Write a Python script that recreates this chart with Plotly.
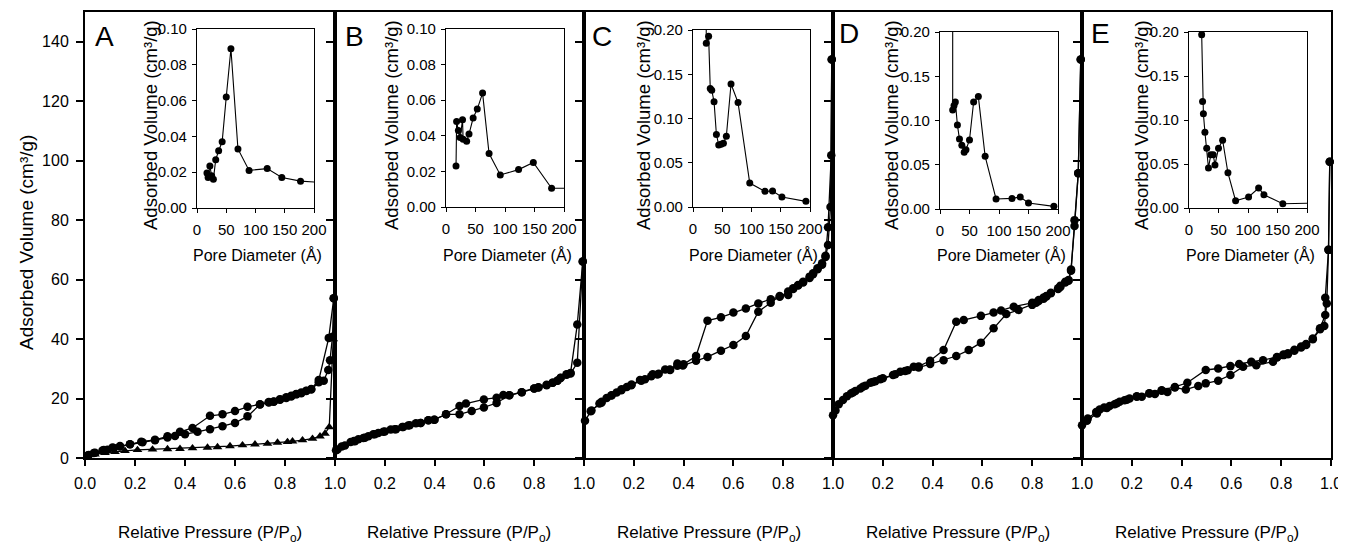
import plotly.graph_objects as go

PAGE_W, PAGE_H = 1346, 544
OFF = 8  # default page body margin of the html page
W, H = PAGE_W - OFF, PAGE_H - OFF
FONT = "Arial, 'Liberation Sans', Helvetica, sans-serif"

# ---------------- main isotherm data (relative pressure, adsorbed volume) ----------------
A_ads_x = [0.012, 0.035, 0.07, 0.09, 0.115, 0.14, 0.18, 0.23, 0.28, 0.33, 0.36, 0.40, 0.45, 0.50, 0.55,
           0.60, 0.65, 0.70, 0.735, 0.755, 0.78, 0.805, 0.825, 0.845, 0.865, 0.885, 0.905, 0.935, 0.955,
           0.973, 0.98, 0.99, 0.995]
A_ads_y = [0.9, 1.7, 2.5, 2.8, 3.4, 3.9, 4.6, 5.3, 6.0, 6.9, 7.4, 8.0, 8.8, 9.7, 10.7,
           11.8, 14.0, 18.0, 18.8, 18.9, 19.6, 20.2, 20.7, 21.4, 21.8, 22.5, 23.0, 25.5, 26.0,
           29.6, 32.9, 40.8, 53.7]
A_des_x = [0.995, 0.975, 0.935, 0.905, 0.885, 0.865, 0.845, 0.825, 0.805, 0.78, 0.755, 0.735, 0.70, 0.65,
           0.60, 0.55, 0.50, 0.43, 0.38, 0.33, 0.28, 0.225, 0.18, 0.14, 0.11, 0.075, 0.04, 0.015]
A_des_y = [53.7, 40.4, 26.2, 23.2, 22.6, 22.0, 21.5, 20.9, 20.4, 19.8, 19.0, 18.7, 18.1, 17.2,
           15.8, 14.7, 14.2, 10.1, 8.8, 7.3, 6.1, 5.5, 4.6, 4.0, 3.5, 2.7, 1.8, 1.0]
A_tri_x = [0.01, 0.04, 0.08, 0.12, 0.16, 0.21, 0.27, 0.33, 0.38, 0.43, 0.49, 0.53, 0.58, 0.63, 0.68,
           0.73, 0.77, 0.81, 0.83, 0.87, 0.91, 0.94, 0.96, 0.977, 0.993]
A_tri_y = [0.6, 1.2, 1.7, 2.1, 2.4, 2.7, 2.9, 3.0, 3.1, 3.3, 3.5, 3.7, 4.0, 4.3, 4.6,
           4.8, 5.2, 5.4, 5.6, 6.0, 6.5, 7.3, 8.2, 10.4, 40.0]

B_ads_x = [0.004, 0.027, 0.063, 0.076, 0.094, 0.114, 0.134, 0.154, 0.174, 0.194, 0.224, 0.245, 0.274,
           0.294, 0.325, 0.344, 0.375, 0.398, 0.446, 0.50, 0.549, 0.598, 0.649, 0.70, 0.75, 0.80, 0.817,
           0.85, 0.874, 0.893, 0.906, 0.93, 0.946, 0.973, 0.995]
B_ads_y = [2.6, 3.9, 5.4, 5.7, 6.3, 6.7, 7.3, 8.0, 8.4, 8.8, 9.6, 9.7, 10.4,
           10.9, 11.7, 11.8, 12.7, 12.9, 14.7, 14.7, 15.8, 17.0, 18.5, 21.1, 22.1, 23.4, 23.7,
           24.5, 25.3, 26.0, 26.9, 28.2, 28.4, 32.0, 66.1]
B_des_x = [0.995, 0.973, 0.946, 0.93, 0.906, 0.893, 0.874, 0.85, 0.817, 0.80, 0.75, 0.70, 0.676, 0.649,
           0.598, 0.526, 0.50, 0.446, 0.40, 0.375, 0.344, 0.30, 0.27, 0.24, 0.20, 0.16, 0.12, 0.08, 0.04, 0.01]
B_des_y = [66.1, 44.9, 28.6, 28.0, 27.0, 26.0, 25.3, 24.6, 23.8, 23.4, 22.1, 21.1, 21.2, 20.3,
           19.7, 18.3, 17.5, 14.7, 12.9, 12.7, 11.8, 11.0, 10.4, 9.7, 8.9, 8.0, 6.8, 5.6, 4.2, 2.9]

C_ads_x = [0.004, 0.027, 0.062, 0.071, 0.091, 0.111, 0.131, 0.151, 0.172, 0.191, 0.225, 0.245, 0.276,
           0.295, 0.326, 0.346, 0.375, 0.397, 0.45, 0.496, 0.55, 0.60, 0.65, 0.70, 0.75, 0.786, 0.82,
           0.84, 0.86, 0.88, 0.906, 0.92, 0.938, 0.956, 0.97, 0.98, 0.99, 0.995]
C_ads_y = [12.5, 15.7, 18.3, 18.9, 20.2, 21.1, 22.0, 23.1, 23.9, 24.7, 26.2, 26.5, 28.2,
           28.1, 29.8, 29.6, 31.8, 31.1, 32.7, 34.0, 36.1, 38.0, 41.0, 49.2, 52.2, 54.5, 54.8,
           57.1, 58.2, 59.3, 61.0, 62.1, 63.8, 65.5, 67.6, 71.6, 84.4, 134.0]
C_des_x = [0.995, 0.993, 0.98, 0.97, 0.956, 0.938, 0.92, 0.906, 0.88, 0.86, 0.84, 0.82, 0.786, 0.75,
           0.70, 0.65, 0.60, 0.55, 0.496, 0.45, 0.40, 0.375, 0.345, 0.30, 0.27, 0.23, 0.19, 0.15, 0.11,
           0.07, 0.03]
C_des_y = [134.0, 101.8, 77.6, 68.0, 65.0, 63.5, 61.8, 60.5, 59.0, 58.0, 56.8, 56.0, 54.2, 53.4,
           52.0, 50.3, 48.9, 47.3, 46.2, 34.3, 31.5, 31.0, 29.8, 28.3, 27.5, 26.0, 24.5, 22.8, 21.0,
           18.6, 16.0]

D_ads_x = [0.0, 0.023, 0.056, 0.072, 0.09, 0.11, 0.13, 0.15, 0.17, 0.19, 0.241, 0.27, 0.29, 0.324,
           0.344, 0.39, 0.444, 0.495, 0.545, 0.594, 0.645, 0.696, 0.745, 0.80, 0.816, 0.826, 0.846,
           0.857, 0.875, 0.904, 0.913, 0.933, 0.946, 0.956, 0.97, 0.985, 0.995]
D_ads_y = [14.4, 18.1, 20.8, 21.7, 22.5, 23.4, 24.3, 25.3, 25.8, 26.5, 27.9, 29.0, 29.3, 30.7,
           30.4, 31.6, 32.9, 34.3, 36.3, 38.8, 43.6, 48.4, 49.8, 51.5, 52.2, 53.1, 54.0,
           54.5, 55.6, 57.1, 57.9, 59.3, 59.9, 63.0, 80.0, 95.8, 134.0]
D_des_x = [0.995, 0.985, 0.97, 0.956, 0.946, 0.933, 0.913, 0.904, 0.875, 0.857, 0.846, 0.826, 0.80,
           0.726, 0.675, 0.645, 0.594, 0.525, 0.495, 0.444, 0.39, 0.344, 0.30, 0.25, 0.20, 0.16, 0.12,
           0.08, 0.04, 0.01]
D_des_y = [134.0, 95.8, 78.0, 63.4, 59.6, 59.0, 57.5, 56.8, 55.4, 54.3, 53.6, 52.8, 52.2,
           50.9, 49.6, 48.9, 47.8, 46.4, 45.8, 36.3, 32.7, 30.8, 29.5, 28.2, 26.8, 25.6, 24.0,
           22.0, 19.5, 16.0]

E_ads_x = [0.0, 0.023, 0.057, 0.071, 0.089, 0.111, 0.131, 0.151, 0.171, 0.191, 0.22, 0.24, 0.271,
           0.293, 0.32, 0.343, 0.373, 0.417, 0.467, 0.497, 0.547, 0.596, 0.647, 0.70, 0.767, 0.783,
           0.809, 0.827, 0.853, 0.88, 0.90, 0.927, 0.956, 0.973, 0.983, 0.99, 0.995]
E_ads_y = [11.0, 13.3, 15.5, 16.3, 17.0, 17.5, 18.1, 18.9, 19.4, 20.0, 20.6, 20.6, 21.7,
           21.5, 22.6, 22.2, 23.7, 23.0, 24.2, 25.1, 26.0, 27.9, 30.7, 31.2, 32.4, 33.8,
           34.6, 34.9, 36.1, 37.2, 38.0, 39.9, 43.3, 44.4, 52.0, 70.0, 99.6]
E_des_x = [0.995, 0.99, 0.977, 0.977, 0.956, 0.927, 0.90, 0.88, 0.853, 0.827, 0.809, 0.783, 0.727,
           0.68, 0.631, 0.596, 0.547, 0.497, 0.423, 0.373, 0.32, 0.27, 0.22, 0.18, 0.14, 0.10, 0.06, 0.02]
E_des_y = [99.6, 70.0, 53.9, 48.1, 43.6, 40.2, 38.3, 37.5, 36.4, 35.2, 34.8, 34.0, 32.9,
           32.4, 31.6, 30.9, 30.1, 29.6, 25.3, 23.9, 22.8, 21.8, 20.8, 19.6, 18.4, 16.8, 15.0, 12.5]

# ---------------- inset pore size distribution data (pore diameter, adsorbed volume) ----------------
A_pore_x = [17, 19, 22, 25, 28, 32, 37, 43, 50, 58, 70, 89, 120, 145, 177, 230]
A_pore_y = [0.0195, 0.017, 0.0235, 0.018, 0.016, 0.027, 0.032, 0.037, 0.062, 0.089, 0.033, 0.021,
            0.022, 0.017, 0.015, 0.014]
B_pore_x = [17, 18, 21, 24, 28, 29, 35, 39, 46, 53, 62, 73, 92, 123, 148, 179, 230]
B_pore_y = [0.023, 0.048, 0.043, 0.039, 0.049, 0.038, 0.037, 0.041, 0.050, 0.055, 0.064, 0.030,
            0.018, 0.021, 0.025, 0.0105, 0.0105]
C_pore_x = [22, 22.7, 26.7, 29.5, 32, 36, 40, 44, 48, 52, 57, 65, 77, 97, 123, 136, 152, 193]
C_pore_y = [0.30, 0.185, 0.193, 0.134, 0.132, 0.119, 0.082, 0.070, 0.071, 0.072, 0.080, 0.139,
            0.118, 0.027, 0.0177, 0.018, 0.0113, 0.0064]
D_pore_x = [21.5, 21.5, 23.8, 26, 29.5, 33, 37, 41, 44, 50, 57, 65, 76.5, 95, 122, 136, 150, 193]
D_pore_y = [0.40, 0.112, 0.117, 0.121, 0.095, 0.079, 0.072, 0.064, 0.067, 0.078, 0.121, 0.127,
            0.0595, 0.0113, 0.012, 0.0136, 0.0068, 0.003]
E_pore_x = [21.5, 23, 24.4, 27, 30, 33, 37, 41, 44, 50, 57, 66, 79, 101, 118, 127, 159, 230]
E_pore_y = [0.197, 0.121, 0.107, 0.086, 0.068, 0.0455, 0.0606, 0.0606, 0.049, 0.068, 0.077, 0.040,
            0.0083, 0.0125, 0.0227, 0.015, 0.0049, 0.0058]

panel_letters = ["A", "B", "C", "D", "E"]
main_ticks = [0.0, 0.2, 0.4, 0.6, 0.8, 1.0]
main_yticks = [0, 20, 40, 60, 80, 100, 120, 140]
pore_ticks = [0, 50, 100, 150, 200]
inset_ymax = [0.10, 0.10, 0.20, 0.20, 0.20]
inset_dtick = [0.02, 0.02, 0.05, 0.05, 0.05]

main_sets = [
    [(A_ads_x, A_ads_y), (A_des_x, A_des_y)],
    [(B_ads_x, B_ads_y), (B_des_x, B_des_y)],
    [(C_ads_x, C_ads_y), (C_des_x, C_des_y)],
    [(D_ads_x, D_ads_y), (D_des_x, D_des_y)],
    [(E_ads_x, E_ads_y), (E_des_x, E_des_y)],
]
inset_sets = [(A_pore_x, A_pore_y), (B_pore_x, B_pore_y), (C_pore_x, C_pore_y),
              (D_pore_x, D_pore_y), (E_pore_x, E_pore_y)]

# ---------------- layout geometry (page pixels) ----------------
main_px = [(85, 335), (335, 584), (584, 833), (833, 1082), (1082, 1331)]
main_py = (12, 458)
inset_px = [(197, 314), (446, 564), (693, 810), (940, 1058), (1189, 1307)]
inset_py = [(29, 208), (29, 207), (30, 207), (32, 209), (32, 208)]
letter_pos = [(104, 36), (354, 36), (602, 36), (849, 34), (1100, 34)]
inset_ytitle_x = [150, 391, 643, 891, 1141]


def fx(p):
    return (p - OFF) / W


def fy(p):
    return 1 - (p - OFF) / H


fig = go.Figure()
layout = dict(
    width=W, height=H, margin=dict(l=0, r=0, t=0, b=0, pad=0, autoexpand=False),
    paper_bgcolor="white", plot_bgcolor="white", showlegend=False,
    font=dict(family=FONT, color="black"),
)
annotations = []

for i in range(5):
    mi = i + 1
    ii = i + 6
    mx = "x" if mi == 1 else f"x{mi}"
    my = "y" if mi == 1 else f"y{mi}"
    ix, iy = f"x{ii}", f"y{ii}"
    # main axes
    layout["xaxis" if mi == 1 else f"xaxis{mi}"] = dict(
        domain=[fx(main_px[i][0]), fx(main_px[i][1])], range=[0, 1.0], anchor=my,
        showline=True, linecolor="black", linewidth=2, mirror=True,
        ticks="outside", ticklen=6, tickwidth=1.5, tickcolor="black",
        tickvals=main_ticks,
        ticktext=[("" if (i > 0 and v == 0) else f"{v:.1f}") for v in main_ticks],
        tickfont=dict(size=16, family=FONT), ticklabelstandoff=4, automargin=False,
        showgrid=False, zeroline=False, fixedrange=True,
    )
    layout["yaxis" if mi == 1 else f"yaxis{mi}"] = dict(
        domain=[fy(main_py[1]), fy(main_py[0])], range=[0, 150], anchor=mx,
        showline=True, linecolor="black", linewidth=2, mirror=True,
        ticks="outside", ticklen=7, tickwidth=1.5, tickcolor="black",
        tickvals=main_yticks, showticklabels=(i == 0),
        tickfont=dict(size=16, family=FONT), ticklabelstandoff=4, automargin=False,
        showgrid=False, zeroline=False, fixedrange=True,
    )
    # inset axes
    layout[f"xaxis{ii}"] = dict(
        domain=[fx(inset_px[i][0]), fx(inset_px[i][1])], range=[0, 200], anchor=iy,
        showline=True, linecolor="black", linewidth=1.3, mirror=True,
        ticks="outside", ticklen=4, tickwidth=1.2, tickcolor="black",
        tickvals=pore_ticks, tickfont=dict(size=15, family=FONT), ticklabelstandoff=4,
        automargin=False, showgrid=False, zeroline=False, fixedrange=True,
    )
    yt = [round(k * inset_dtick[i], 2) for k in range(int(round(inset_ymax[i] / inset_dtick[i])) + 1)]
    layout[f"yaxis{ii}"] = dict(
        domain=[fy(inset_py[i][1]), fy(inset_py[i][0])], range=[0, inset_ymax[i]], anchor=ix,
        showline=True, linecolor="black", linewidth=1.3, mirror=True,
        ticks="outside", ticklen=4, tickwidth=1.2, tickcolor="black",
        tickvals=yt, ticktext=[f"{v:.2f}" for v in yt],
        tickfont=dict(size=15, family=FONT), ticklabelstandoff=2, automargin=False,
        showgrid=False, zeroline=False, fixedrange=True,
    )

    # main traces
    for (xs, ys) in main_sets[i]:
        fig.add_trace(go.Scatter(
            x=xs, y=ys, xaxis=mx, yaxis=my, mode="lines+markers",
            line=dict(color="black", width=1.3),
            marker=dict(symbol="circle", size=8.5, color="black"),
            cliponaxis=False, hoverinfo="skip",
        ))
    if i == 0:
        fig.add_trace(go.Scatter(
            x=A_tri_x, y=A_tri_y, xaxis=mx, yaxis=my, mode="lines+markers",
            line=dict(color="black", width=1.3),
            marker=dict(symbol="triangle-up", size=8.5, color="black"),
            cliponaxis=False, hoverinfo="skip",
        ))
    # inset trace
    px_, py_ = inset_sets[i]
    fig.add_trace(go.Scatter(
        x=px_, y=py_, xaxis=ix, yaxis=iy, mode="lines+markers",
        line=dict(color="black", width=1.1),
        marker=dict(symbol="circle", size=7, color="black"),
        cliponaxis=True, hoverinfo="skip",
    ))

    # texts
    cx = (main_px[i][0] + main_px[i][1]) / 2
    annotations.append(dict(
        text="Relative Pressure (P/P<sub>o</sub>)", x=fx(cx), y=fy(534), xref="paper", yref="paper",
        xanchor="center", yanchor="middle", showarrow=False, font=dict(size=17, family=FONT),
    ))
    annotations.append(dict(
        text=panel_letters[i], x=fx(letter_pos[i][0]), y=fy(letter_pos[i][1]), xref="paper", yref="paper",
        xanchor="center", yanchor="middle", showarrow=False, font=dict(size=28, family=FONT),
    ))
    icx = (inset_px[i][0] + inset_px[i][1]) / 2
    annotations.append(dict(
        text="Pore Diameter (Å)", x=fx(icx + 2), y=fy(255), xref="paper", yref="paper",
        xanchor="center", yanchor="middle", showarrow=False, font=dict(size=16, family=FONT),
    ))
    annotations.append(dict(
        text="Adsorbed Volume (cm³/g)", x=fx(inset_ytitle_x[i]), y=fy(125),
        xref="paper", yref="paper", textangle=-90,
        xanchor="center", yanchor="middle", showarrow=False, font=dict(size=18.5, family=FONT),
    ))

annotations.append(dict(
    text="Adsorbed Volume (cm³/g)", x=fx(26), y=fy(243), xref="paper", yref="paper",
    textangle=-90, xanchor="center", yanchor="middle", showarrow=False, font=dict(size=19, family=FONT),
))

layout["annotations"] = annotations
fig.update_layout(**layout)
fig.write_html("out.html")
